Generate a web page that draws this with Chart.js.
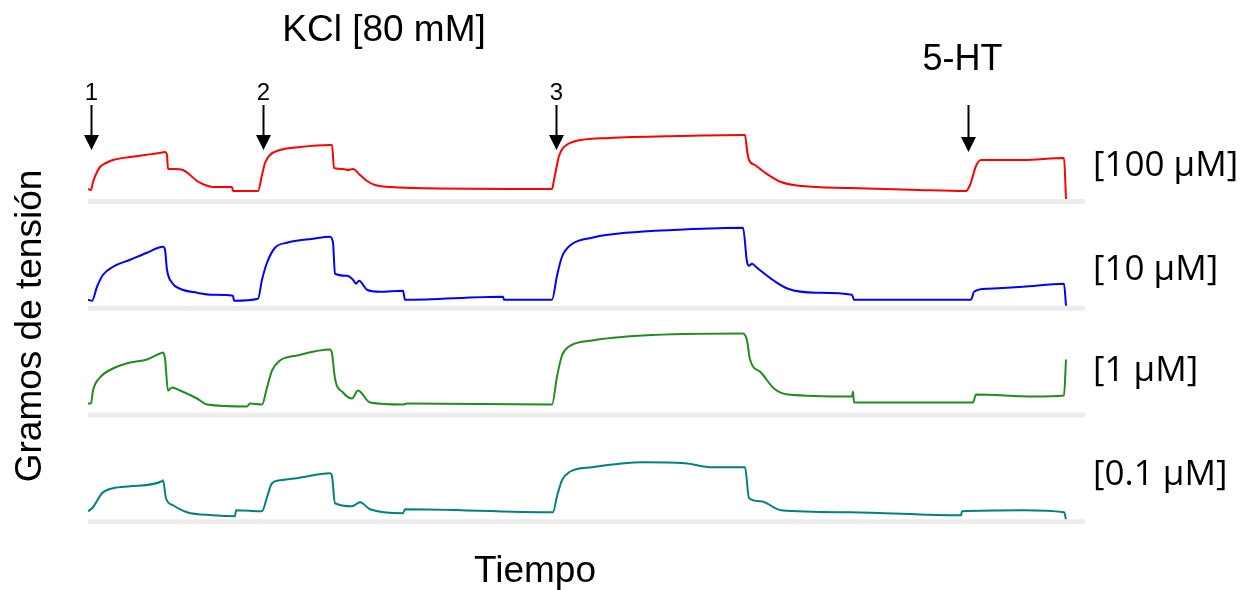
<!DOCTYPE html>
<html>
<head>
<meta charset="utf-8">
<script src="https://cdn.jsdelivr.net/npm/chart.js@4"></script>
<style>
html,body{margin:0;padding:0;background:#fff;}
#wrap{position:relative;width:1251px;height:590px;}
</style>
</head>
<body>
<div id="wrap"><canvas id="c"></canvas></div>
<script>
// ---- Data (time in arbitrary units, tension in arbitrary grams above baseline) ----
const traceLabels = ['[100 \u03BCM]', '[10 \u03BCM]', '[1 \u03BCM]', '[0.1 \u03BCM]'];
const traceColors = ['#ff0000', '#0000ff', '#228b22', '#008080'];

const tRed = [0,3,5,9,12,18,25,42,57,72,77,79,80,87,95,102,109,117,125,144,145,170,174,177,182,192,212,242,244,246,255,260,265,272,279,287,302,325,464,466,469,471,475,480,493,521,590,655,657,659,661,667,676,693,714,762,831,878,882,888,893,935,976,978];
const vRed = [1.0,0.9,1.7,2.7,3.2,3.6,3.9,4.2,4.4,4.6,4.7,4.4,3.0,3.0,2.9,2.4,1.8,1.4,1.2,1.2,0.8,0.8,2.4,3.6,4.4,4.9,5.2,5.4,5.4,3.1,3.0,2.9,3.0,2.4,1.8,1.4,1.2,1.1,1.0,1.9,3.4,4.3,5.1,5.5,5.9,6.1,6.3,6.4,6.4,4.9,3.9,3.4,2.7,1.7,1.3,1.1,0.9,0.8,1.4,3.3,3.9,3.9,4.1,0.0];

const tBlue = [0,4,9,15,25,42,59,75,77,79,84,92,109,125,145,146,170,174,179,187,199,225,242,245,247,259,265,268,271,279,292,315,317,415,416,464,469,474,483,504,538,590,655,659,661,664,669,686,700,728,764,766,883,886,900,935,976,978];
const vBlue = [0.6,0.5,1.9,3.1,3.9,4.6,5.3,5.9,5.6,3.6,2.3,1.7,1.3,1.1,1.0,0.5,0.7,2.6,4.3,5.8,6.3,6.7,6.9,6.3,3.2,3.0,2.6,2.2,2.5,1.6,1.4,1.5,0.6,0.9,0.6,0.6,3.0,4.9,6.1,6.8,7.3,7.6,7.8,4.4,4.0,4.2,3.8,2.5,1.7,1.3,1.1,0.6,0.6,1.4,1.7,1.9,2.2,0];

const tGreen = [0,3,5,12,25,42,59,72,75,77,80,84,92,109,119,159,162,174,179,184,192,209,242,244,247,255,264,270,282,315,319,464,469,474,481,504,555,655,659,662,673,686,700,764,765,766,885,888,945,976,978];
const vGreen = [0.9,0.9,2.2,3.5,4.4,5.0,5.3,5.9,6.0,5.4,2.2,2.5,2.2,1.4,0.8,0.6,0.9,0.8,2.5,4.2,5.2,5.7,6.3,5.9,3.4,2.0,1.4,2.2,1.0,0.8,0.9,0.8,3.6,5.7,6.6,7.2,7.7,7.9,7.2,5.3,4.0,2.4,1.8,1.6,2.1,1.0,1.0,1.8,1.6,1.7,5.3];

const tTeal = [0,5,14,25,42,74,75,78,85,99,125,147,148,174,179,184,192,209,242,244,247,264,272,282,315,317,465,469,474,481,504,555,597,624,657,661,673,693,762,873,874,935,976,978];
const vTeal = [0.8,1.2,2.6,3.1,3.3,3.8,3.9,2.1,1.4,0.7,0.4,0.3,0.9,0.8,2.2,3.6,3.9,4.1,4.6,4.3,1.6,1.3,1.7,1.0,0.6,1.0,0.7,2.3,3.9,4.7,5.2,5.7,5.6,5.2,5.2,2.1,1.8,0.9,0.7,0.4,0.8,0.9,0.7,0];

const arrowTimes = [3, 175, 468, 880];
const arrowLabels = ['1', '2', '3', '5-HT'];
const titleText = 'KCl [80 mM]';
const yTitle = 'Gramos de tensi\u00F3n';
const xTitle = 'Tiempo';

// ---- Build ----
const series = [[tRed, vRed], [tBlue, vBlue], [tGreen, vGreen], [tTeal, vTeal]];
const datasets = series.map(([t, v], i) => ({
  label: traceLabels[i],
  data: t.map((x, k) => ({x: x, y: v[k]})),
  borderColor: traceColors[i],
  borderWidth: 2,
  pointRadius: 0,
  cubicInterpolationMode: 'monotone',
  fill: false,
  yAxisID: 'y' + i
}));

const PAD = {left: 88, right: 166, top: 97, bottom: 66};
const areaH = 590 - PAD.top - PAD.bottom;
const band = areaH / 4;
const pxPerUnit = 10;
const range = areaH / pxPerUnit;
const scales = {
  x: {type: 'linear', min: 0, max: 997, display: false}
};
for (let i = 0; i < 4; i++) {
  const max = (102 + band * i) / pxPerUnit;
  scales['y' + i] = {type: 'linear', min: max - range, max: max, display: false};
}

const decor = {
  id: 'decor',
  beforeDatasetsDraw(chart) {
    const ctx = chart.ctx, xs = chart.scales.x;
    ctx.save();
    ctx.fillStyle = '#ededed';
    for (let i = 0; i < 4; i++) {
      const ys = chart.scales['y' + i];
      const y0 = ys.getPixelForValue(0);
      ctx.fillRect(xs.left, y0, xs.right - xs.left, 5);
    }
    ctx.restore();
  },
  afterDraw(chart) {
    const ctx = chart.ctx, xs = chart.scales.x;
    ctx.save();
    ctx.fillStyle = '#000';
    ctx.strokeStyle = '#000';
    // arrows
    arrowTimes.forEach((t, i) => {
      const px = Math.round(xs.getPixelForValue(t)) + 0.5;
      const big = arrowLabels[i].length > 1;
      const top = 105, headTop = big ? 137 : 135, tip = big ? 152 : 150;
      ctx.lineWidth = 2;
      ctx.beginPath();
      ctx.moveTo(px, top);
      ctx.lineTo(px, headTop + 2);
      ctx.stroke();
      ctx.beginPath();
      ctx.moveTo(px - 7.5, headTop);
      ctx.lineTo(px + 7.5, headTop);
      ctx.lineTo(px, tip);
      ctx.closePath();
      ctx.fill();
      ctx.textAlign = 'center';
      ctx.textBaseline = 'alphabetic';
      if (big) {
        ctx.font = '36px "Liberation Sans", Arial, sans-serif';
        ctx.fillText(arrowLabels[i], px - 6, 70);
      } else {
        ctx.font = '24px "Liberation Sans", Arial, sans-serif';
        ctx.fillText(arrowLabels[i], px, 100);
      }
    });
    // title
    ctx.font = '37px "Liberation Sans", Arial, sans-serif';
    ctx.textAlign = 'center';
    ctx.fillText(titleText, 384, 41);
    // right labels
    ctx.font = '35px "Open Sans", sans-serif';
    ctx.textAlign = 'left';
    ctx.textBaseline = 'middle';
    const labelY = [166, 270, 371, 475];
    traceLabels.forEach((s, i) => ctx.fillText(s, 1093, labelY[i]));
    // x title
    ctx.font = '37px "Liberation Sans", Arial, sans-serif';
    ctx.textAlign = 'center';
    ctx.textBaseline = 'alphabetic';
    ctx.fillText(xTitle, 535, 582);
    // y title
    ctx.translate(41, 326);
    ctx.rotate(-Math.PI / 2);
    ctx.fillText(yTitle, 0, 0);
    ctx.restore();
  }
};

new Chart(document.getElementById('c'), {
  type: 'line',
  data: {datasets: datasets},
  options: {
    responsive: true,
    maintainAspectRatio: false,
    animation: false,
    layout: {padding: PAD},
    plugins: {legend: {display: false}, tooltip: {enabled: false}},
    scales: scales
  },
  plugins: [decor]
});
</script>
</body>
</html>
